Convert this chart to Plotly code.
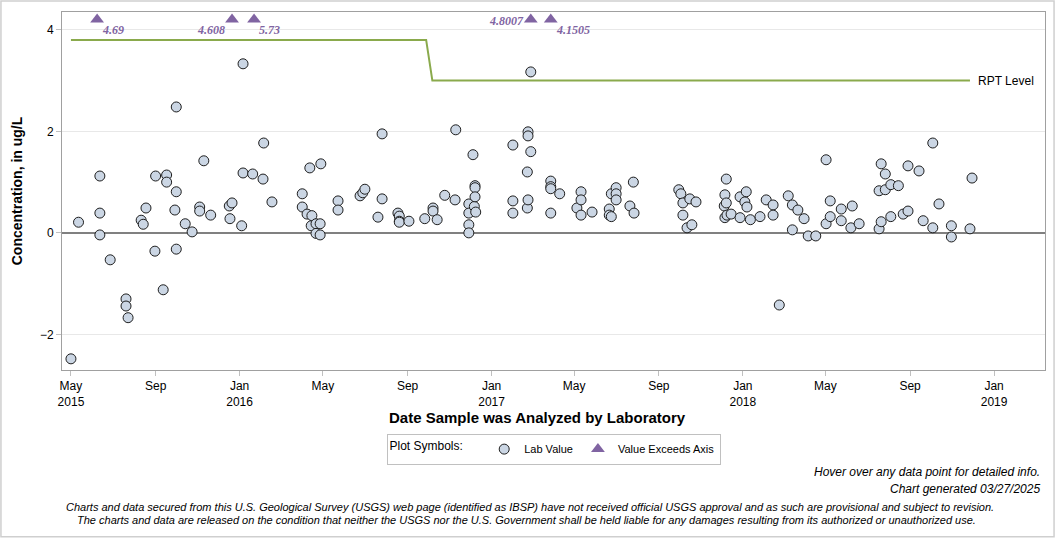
import plotly.graph_objects as go

# ---------------- data ----------------
lab_dates = [
    "2015-05-01", "2015-05-12", "2015-06-12", "2015-06-12", "2015-06-12", "2015-06-27",
    "2015-07-20", "2015-07-20", "2015-07-23", "2015-08-11", "2015-08-14", "2015-08-18",
    "2015-09-01", "2015-08-31", "2015-09-12", "2015-09-17", "2015-09-17", "2015-09-29",
    "2015-10-01", "2015-10-01", "2015-10-01", "2015-10-14", "2015-10-24", "2015-11-04",
    "2015-11-04", "2015-11-10", "2015-11-20", "2015-12-17", "2015-12-18", "2015-12-21",
    "2016-01-04", "2016-01-06", "2016-01-06", "2016-01-20", "2016-02-04", "2016-02-05",
    "2016-02-17", "2016-04-01", "2016-04-01", "2016-04-08", "2016-04-12", "2016-04-15",
    "2016-04-14", "2016-04-21", "2016-04-21", "2016-04-27", "2016-04-27", "2016-04-28",
    "2016-05-23", "2016-05-23", "2016-06-24", "2016-06-28", "2016-07-01", "2016-07-20",
    "2016-07-26", "2016-07-26", "2016-08-18", "2016-08-20", "2016-08-20", "2016-08-20",
    "2016-09-03", "2016-09-26", "2016-10-08", "2016-10-08", "2016-10-14", "2016-10-25",
    "2016-11-09", "2016-11-10", "2016-11-29", "2016-11-29", "2016-11-29", "2016-11-29",
    "2016-12-05", "2016-12-07", "2016-12-08", "2016-12-08", "2016-12-08", "2016-12-09",
    "2017-02-01", "2017-02-01", "2017-02-01", "2017-02-22", "2017-02-22", "2017-02-23",
    "2017-02-23", "2017-02-23", "2017-02-27", "2017-02-27", "2017-03-28", "2017-03-28",
    "2017-03-28", "2017-03-28", "2017-04-10", "2017-05-05", "2017-05-11", "2017-05-11",
    "2017-05-11", "2017-05-27", "2017-06-21", "2017-06-21", "2017-06-24", "2017-06-24",
    "2017-07-01", "2017-07-01", "2017-07-01", "2017-07-21", "2017-07-26", "2017-07-27",
    "2017-09-30", "2017-10-03", "2017-10-06", "2017-10-06", "2017-10-12", "2017-10-16",
    "2017-10-19", "2017-10-25", "2017-12-05", "2017-12-06", "2017-12-06", "2017-12-08",
    "2017-12-08", "2017-12-09", "2017-12-15", "2017-12-28", "2017-12-28", "2018-01-04",
    "2018-01-06", "2018-01-07", "2018-01-12", "2018-01-26", "2018-02-04", "2018-02-14",
    "2018-02-14", "2018-02-23", "2018-03-08", "2018-03-14", "2018-03-14", "2018-03-22",
    "2018-03-31", "2018-04-06", "2018-04-17", "2018-05-02", "2018-05-02", "2018-05-08",
    "2018-05-08", "2018-05-24", "2018-05-24", "2018-06-07", "2018-06-09", "2018-06-19",
    "2018-07-18", "2018-07-18", "2018-07-21", "2018-07-21", "2018-07-27", "2018-07-27",
    "2018-08-04", "2018-08-04", "2018-08-15", "2018-08-22", "2018-08-29", "2018-08-29",
    "2018-09-14", "2018-09-20", "2018-10-04", "2018-10-04", "2018-10-13", "2018-10-31",
    "2018-10-31", "2018-11-27", "2018-11-30",
]
lab_values = [
    -2.48, 0.21, 1.12, 0.39, -0.04, -0.53,
    -1.30, -1.44, -1.67, 0.25, 0.17, 0.49,
    1.12, -0.36, -1.12, 1.14, 1.00, 0.45,
    2.48, 0.81, -0.32, 0.18, 0.02, 0.51,
    0.43, 1.42, 0.35, 0.53, 0.28, 0.59,
    0.14, 3.33, 1.18, 1.16, 1.06, 1.77,
    0.61, 0.77, 0.51, 0.37, 1.28, 0.34,
    0.14, 0.18, -0.01, 0.18, -0.04, 1.36,
    0.63, 0.45, 0.73, 0.79, 0.86, 0.31,
    1.95, 0.67, 0.39, 0.33, 0.23, 0.21,
    0.23, 0.28, 0.49, 0.43, 0.26, 0.74,
    0.65, 2.03, 0.57, 0.39, 0.16, 0.00,
    1.54, 0.52, 0.93, 0.89, 0.71, 0.41,
    1.73, 0.63, 0.39, 1.20, 0.49, 1.99,
    1.91, 0.65, 1.60, 3.17, 1.02, 0.91,
    0.87, 0.39, 0.77, 0.49, 0.81, 0.65,
    0.35, 0.41, 0.47, 0.35, 0.77, 0.32,
    0.89, 0.77, 0.65, 0.53, 1.00, 0.39,
    0.85, 0.77, 0.59, 0.35, 0.10, 0.67,
    0.16, 0.61, 0.53, 0.75, 0.30, 1.06,
    0.59, 0.35, 0.37, 0.71, 0.30, 0.61,
    0.81, 0.51, 0.26, 0.32, 0.65, 0.55,
    0.35, -1.42, 0.73, 0.55, 0.06, 0.45,
    0.28, -0.06, -0.06, 1.44, 0.18, 0.63,
    0.32, 0.47, 0.24, 0.10, 0.53, 0.18,
    0.08, 0.83, 0.22, 1.36, 1.16, 0.85,
    0.95, 0.32, 0.93, 0.37, 0.43, 1.32,
    1.22, 0.24, 1.77, 0.10, 0.57, 0.14,
    -0.08, 0.08, 1.08,
]

exceed_dates = ["2015-06-08", "2015-12-21", "2016-01-22", "2017-02-27", "2017-03-28"]
exceed_values = [4.69, 4.608, 5.73, 4.8007, 4.1505]
exceed_label_side = ["right", "left", "right", "left", "right"]

rpt_dates = ["2015-05-01", "2016-09-28", "2016-10-07", "2018-11-27"]
rpt_values = [3.8, 3.8, 3.0, 3.0]

tick_dates = ["2015-05-01", "2015-09-01", "2016-01-01", "2016-05-01", "2016-09-01",
              "2017-01-01", "2017-05-01", "2017-09-01", "2018-01-01", "2018-05-01",
              "2018-09-01", "2019-01-01"]
tick_labels = ["May<br>2015", "Sep", "Jan<br>2016", "May", "Sep", "Jan<br>2017", "May",
               "Sep", "Jan<br>2018", "May", "Sep", "Jan<br>2019"]
y_ticks = [-2, 0, 2, 4]

Y_MIN, Y_MAX = -2.70, 4.35
AXIS_TOP_MARK = 4.2  # where exceeding values are drawn

FONT = "Liberation Sans, Arial, sans-serif"
NARROW = "Liberation Sans Narrow, Arial Narrow, Liberation Sans, sans-serif"
PURPLE = "#8064a2"

fig = go.Figure()

fig.add_trace(go.Scatter(
    x=rpt_dates, y=rpt_values, mode="lines",
    line=dict(color="#8aaa4c", width=2), showlegend=False, hoverinfo="skip",
))

fig.add_trace(go.Scatter(
    x=lab_dates, y=lab_values, mode="markers", name="Lab Value",
    marker=dict(symbol="circle", size=10, color="#cbd6e4",
                line=dict(color="#1e1e1e", width=1)),
))

fig.add_trace(go.Scatter(
    x=exceed_dates, y=[AXIS_TOP_MARK] * len(exceed_dates), mode="markers",
    name="Value Exceeds Axis", customdata=exceed_values,
    hovertemplate="%{x}<br>%{customdata}<extra></extra>",
    marker=dict(symbol="triangle-up", size=12, color=PURPLE, line=dict(width=0)),
))

annotations = []
for d, v, side in zip(exceed_dates, exceed_values, exceed_label_side):
    if side == "right":
        annotations.append(dict(x=d, y=AXIS_TOP_MARK, xref="x", yref="y",
                                text=f"<b><i>{v}</i></b>", showarrow=False,
                                xanchor="left", yanchor="middle", xshift=3, yshift=-10,
                                font=dict(family="Liberation Serif, Times New Roman, serif",
                                          size=12, color=PURPLE)))
    else:
        annotations.append(dict(x=d, y=AXIS_TOP_MARK, xref="x", yref="y",
                                text=f"<b><i>{v}</i></b>", showarrow=False,
                                xanchor="right", yanchor="middle", xshift=-5,
                                yshift=-10 if v < 4.7 else -1,
                                font=dict(family="Liberation Serif, Times New Roman, serif",
                                          size=12, color=PURPLE)))

annotations.append(dict(x=rpt_dates[-1], y=rpt_values[-1], xref="x", yref="y",
                        text="RPT Level", showarrow=False, xanchor="left",
                        yanchor="middle", xshift=6,
                        font=dict(family=FONT, size=12, color="#000")))

annotations += [
    dict(x=0.484, y=-0.134, xref="paper", yref="paper", xanchor="center", yanchor="middle",
         text="<b>Date Sample was Analyzed by Laboratory</b>", showarrow=False,
         font=dict(family=FONT, size=15, color="#000")),
    dict(x=0.997, y=-0.285, xref="paper", yref="paper", xanchor="right", yanchor="middle",
         text="<i>Hover over any data point for detailed info.</i>", showarrow=False,
         font=dict(family=NARROW, size=12, color="#000")),
    dict(x=0.997, y=-0.332, xref="paper", yref="paper", xanchor="right", yanchor="middle",
         text="<i>Chart generated 03/27/2025</i>", showarrow=False,
         font=dict(family=NARROW, size=12, color="#000")),
    dict(x=0.476, y=-0.383, xref="paper", yref="paper", xanchor="center", yanchor="middle",
         text="<i>Charts and data secured from this U.S. Geological Survey (USGS) web page (identified as IBSP) have not received official USGS approval and as such are provisional and subject to revision.</i>",
         showarrow=False, font=dict(family=NARROW, size=11, color="#000")),
    dict(x=0.473, y=-0.419, xref="paper", yref="paper", xanchor="center", yanchor="middle",
         text="<i>The charts and data are released on the condition that neither the USGS nor the U.S. Government shall be held liable for any damages resulting from its authorized or unauthorized use.</i>",
         showarrow=False, font=dict(family=NARROW, size=11, color="#000")),
]

fig.update_layout(
    width=1056, height=538,
    margin=dict(l=62, r=11, t=12, b=168),
    paper_bgcolor="white", plot_bgcolor="white",
    font=dict(family=FONT, size=12, color="#000"),
    annotations=annotations,
    legend=dict(orientation="h", x=0.5, xanchor="center", y=-0.221, yanchor="middle",
                title=dict(text="Plot Symbols:    ", font=dict(size=12), side="left"),
                bordercolor="#c0c0c0", borderwidth=1, font=dict(size=11),
                itemwidth=30, tracegroupgap=0, valign="middle"),
    shapes=[dict(type="rect", xref="paper", yref="paper",
                 x0=-0.0621, x1=1.0092, y0=-0.466, y1=1.0307,
                 line=dict(color="#cfcfcf", width=1.5), layer="below")],
    showlegend=True,
)

fig.update_xaxes(
    type="date", range=["2015-04-18", "2019-03-16"],
    tickvals=tick_dates, ticktext=tick_labels,
    showgrid=False, showline=True, linecolor="#a0a0a0", mirror=True,
    ticks="outside", ticklen=5, tickcolor="#c0c0c0",
    tickfont=dict(size=12, color="#000"),
    zeroline=False,
)
fig.update_yaxes(
    range=[Y_MIN, Y_MAX], tickvals=y_ticks,
    showgrid=True, gridcolor="#e8e8e8", gridwidth=1,
    zeroline=True, zerolinecolor="#808080", zerolinewidth=2,
    showline=True, linecolor="#a0a0a0", mirror=True,
    ticks="outside", ticklen=5, tickcolor="#c0c0c0",
    tickfont=dict(size=12, color="#000"),
    title=dict(text="<b>Concentration, in ug/L</b>", font=dict(size=14), standoff=14),
)

fig.write_html("out.html")
